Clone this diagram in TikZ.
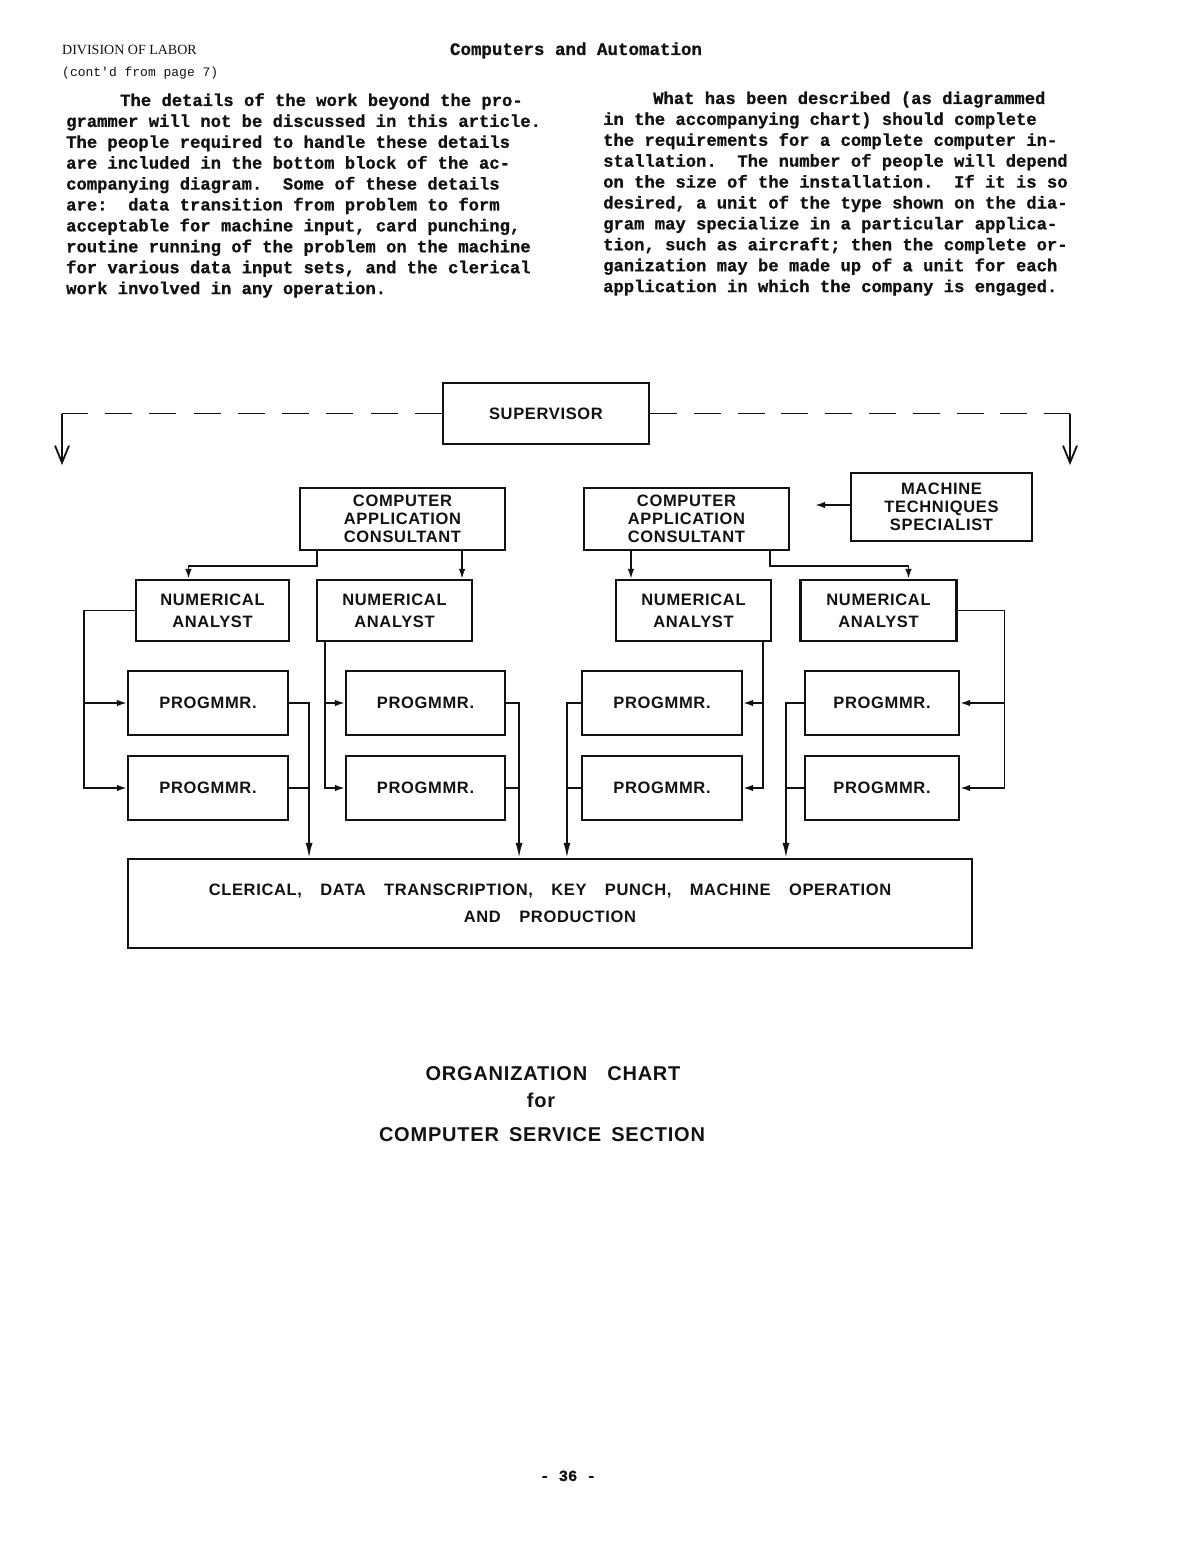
\documentclass[tikz,border=0pt]{standalone}
\usepackage{fontspec}
\usepackage{tikz}
\usetikzlibrary{arrows.meta}
\newfontfamily\typefont{Liberation Mono}[BoldFeatures={FakeBold=0.8}]
\newfontfamily\chartfont{Liberation Sans}[LetterSpace=4,WordSpace=3.5]
\newfontfamily\labelfont{Liberation Serif}
\definecolor{myink}{rgb}{0.07,0.07,0.07}

\begin{document}
\begin{tikzpicture}[x=1pt,y=-1pt,
  box/.style={draw=myink,line width=2.1pt,inner sep=0pt,align=center,text=myink,
    font=\chartfont\bfseries\fontsize{16.5}{18}\selectfont},
  nabox/.style={box,minimum height=61,font=\chartfont\bfseries\fontsize{16.5}{22}\selectfont},
  progbox/.style={box,minimum height=64},
  link/.style={draw=myink,line width=1.8pt},
  arr/.style={link,-{Latex[length=10pt,width=6.5pt]}},
  droparr/.style={link,-{Latex[length=15pt,width=7pt]}},
  barb/.style={link,-{Straight Barb[length=17pt,width=14pt]}},
  bodytext/.style={anchor=base west,inner sep=0pt,text=myink,
    font=\typefont\bfseries\fontsize{17.2}{20.9}\selectfont},
  plaintext/.style={anchor=base,inner sep=0pt,text=myink}]
  \fill[white] (0,0) rectangle (1188,1549);
  \useasboundingbox (0,0) rectangle (1188,1549);

  \node[anchor=base west,inner sep=0pt,text=myink,font=\labelfont\fontsize{14}{16}\selectfont] (hdiv) at (62,55) {DIVISION OF LABOR};
  \node[anchor=base west,inner sep=0pt,text=myink,font=\typefont\fontsize{13}{15}\selectfont] (hcont) at (62,77) {(cont'd from page 7)};
  \node[plaintext,font=\typefont\bfseries\fontsize{17.5}{20}\selectfont] (hmag) at (576,55) {Computers and Automation};

  \foreach \tx/\tl [count=\ti from 0] in {
      120/{The details of the work beyond the pro-},
      66/{grammer will not be discussed in this article.},
      66/{The people required to handle these details},
      66/{are included in the bottom block of the ac-},
      66/{companying diagram.\ \ Some of these details},
      66/{are:\ \ data transition from problem to form},
      66/{acceptable for machine input, card punching,},
      66/{routine running of the problem on the machine},
      66/{for various data input sets, and the clerical},
      66/{work involved in any operation.}}
    \node[bodytext] (lt\ti) at (\tx,106+20.9*\ti) {\tl};
  \foreach \tx/\tl [count=\ti from 0] in {
      653/{What has been described (as diagrammed},
      603/{in the accompanying chart) should complete},
      603/{the requirements for a complete computer in-},
      603/{stallation.\ \ The number of people will depend},
      603/{on the size of the installation.\ \ If it is so},
      603/{desired, a unit of the type shown on the dia-},
      603/{gram may specialize in a particular applica-},
      603/{tion, such as aircraft; then the complete or-},
      603/{ganization may be made up of a unit for each},
      603/{application in which the company is engaged.}}
    \node[bodytext] (rt\ti) at (\tx,104+20.9*\ti) {\tl};

  \node[box,minimum width=206,minimum height=61] (sup) at (546,413.5) {SUPERVISOR};
  \node[box,minimum width=205,minimum height=62] (cac1) at (402.5,519) {COMPUTER\\APPLICATION\\CONSULTANT};
  \node[box,minimum width=205,minimum height=62] (cac2) at (686.5,519) {COMPUTER\\APPLICATION\\CONSULTANT};
  \node[box,minimum width=181,minimum height=68] (mts) at (941.5,507) {MACHINE\\TECHNIQUES\\SPECIALIST};
  \foreach \nn/\nx/\nw in {na1/212.5/153,na2/394.5/155,na3/693.5/155,na4/878.5/156}
    \node[nabox,minimum width=\nw] (\nn) at (\nx,610.5) {NUMERICAL\\ANALYST};
  \foreach \pn/\px/\pw in {p1/208/160,p2/425.5/159,p3/662/160,p4/882/154} {
    \node[progbox,minimum width=\pw] (\pn a) at (\px,703) {PROGMMR.};
    \node[progbox,minimum width=\pw] (\pn b) at (\px,788) {PROGMMR.};}
  \node[box,minimum width=844,minimum height=89,font=\chartfont\bfseries\fontsize{16.5}{27}\selectfont] (bot) at (550,903.5)
    {CLERICAL, DATA TRANSCRIPTION, KEY PUNCH, MACHINE OPERATION\\AND PRODUCTION};

  \coordinate (dl) at (62,465);
  \coordinate (dr) at (1070,465);
  \draw[link,dash pattern=on 27pt off 17.25pt] (sup.west) -- (sup.west -| dl);
  \draw[barb] (sup.west -| dl) -- (dl);
  \draw[link,dash pattern=on 27pt off 16.8pt] (sup.east) -- (sup.east -| dr);
  \draw[barb] (sup.east -| dr) -- (dr);
  \coordinate (mtstip) at (815,505);
  \draw[arr] (mts.west |- mtstip) -- (mtstip);

  \draw[arr] ([xshift=18pt]cac1.south west) -- ++(0,15) -| ([xshift=-24pt]na1.north);
  \draw[arr] ([xshift=-11pt]na2.north east |- cac1.south) -- ([xshift=-11pt]na2.north east);
  \draw[arr] ([xshift=16pt]na3.north west |- cac2.south) -- ([xshift=16pt]na3.north west);
  \draw[arr] ([xshift=-20pt]cac2.south east) -- ++(0,15) -| ([xshift=30pt]na4.north);

  \draw[arr] (na1.west) -- ++(-51,0) |- (p1a.west);
  \draw[arr] (na1.west) -- ++(-51,0) |- (p1b.west);
  \draw[arr] ([xshift=9pt]na2.south west) |- (p2a.west);
  \draw[arr] ([xshift=9pt]na2.south west) |- (p2b.west);
  \draw[arr] ([xshift=-9pt]na3.south east) |- (p3a.east);
  \draw[arr] ([xshift=-9pt]na3.south east) |- (p3b.east);
  \draw[arr] (na4.east) -- ++(47,0) |- (p4a.east);
  \draw[arr] (na4.east) -- ++(47,0) |- (p4b.east);

  \draw[droparr] (p1a.east) -- ++(20,0) coordinate (j1) -- (j1 |- bot.north);
  \draw[link] (p1b.east) -- (p1b.east -| j1);
  \draw[droparr] (p2a.east) -- ++(13,0) coordinate (j2) -- (j2 |- bot.north);
  \draw[link] (p2b.east) -- (p2b.east -| j2);
  \draw[droparr] (p3a.west) -- ++(-14,0) coordinate (j3) -- (j3 |- bot.north);
  \draw[link] (p3b.west) -- (p3b.west -| j3);
  \draw[droparr] (p4a.west) -- ++(-18,0) coordinate (j4) -- (j4 |- bot.north);
  \draw[link] (p4b.west) -- (p4b.west -| j4);

  \node[plaintext,font=\chartfont\bfseries\fontsize{20}{24}\selectfont] (ttl1) at (553,1080) {ORGANIZATION\hspace{20pt}CHART};
  \node[plaintext,font=\chartfont\bfseries\fontsize{20}{24}\selectfont] (ttl2) at (541,1107) {for};
  \node[plaintext,font=\chartfont\bfseries\fontsize{20}{24}\selectfont] (ttl3) at (542,1141) {COMPUTER\hspace{10pt}SERVICE\hspace{10pt}SECTION};
  \node[plaintext,font=\typefont\bfseries\fontsize{15.5}{18}\selectfont] (pg) at (568,1481) {- 36 -};
\end{tikzpicture}
\end{document}
